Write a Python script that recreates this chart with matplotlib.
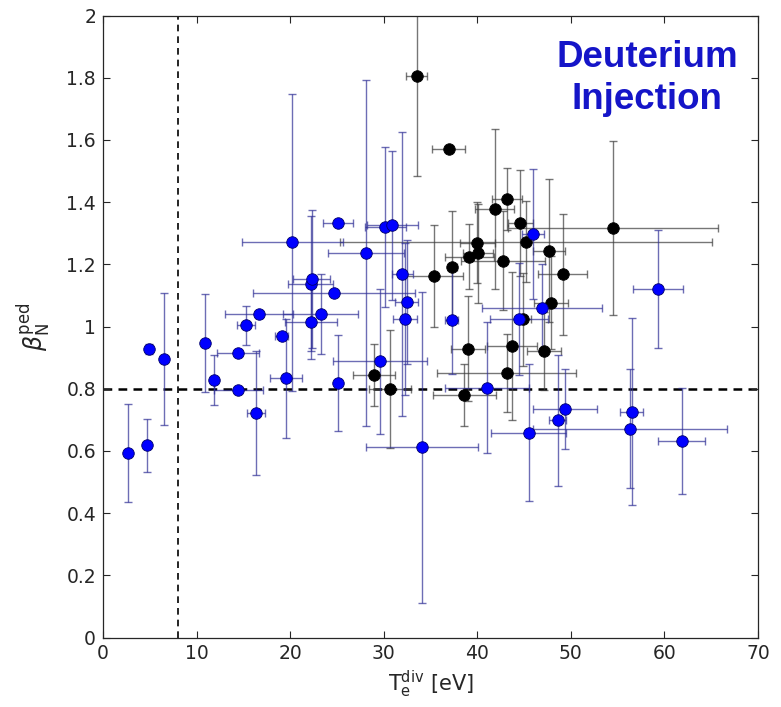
import numpy as np
import matplotlib
matplotlib.use('Agg')
import matplotlib.pyplot as plt

plt.rcParams['font.family'] = ['DejaVu Sans']
plt.rcParams['mathtext.fontset'] = 'dejavusans'

# blue shots: position, value, errors
blue_x = [2.71, 4.67, 4.95, 6.52, 10.93, 11.9, 14.43, 14.46, 15.28, 16.35,
          16.67, 19.1, 19.56, 20.23, 22.2, 22.3, 22.23, 23.26, 24.69, 25.08,
          25.15, 28.1, 29.6, 30.17, 30.92, 32.0, 32.46, 32.27, 34.1, 37.27,
          41.07, 44.5, 45.5, 45.95, 46.95, 48.6, 49.37, 56.3, 56.5, 59.35,
          61.84]
blue_y = [0.594, 0.618, 0.929, 0.896, 0.948, 0.828, 0.916, 0.796, 1.004, 0.721,
          1.039, 0.969, 0.833, 1.271, 1.137, 1.152, 1.014, 1.04, 1.107, 1.334,
          0.819, 1.237, 0.889, 1.319, 1.326, 1.168, 1.078, 1.025, 0.611, 1.021,
          0.803, 1.023, 0.659, 1.298, 1.06, 0.698, 0.735, 0.672, 0.726, 1.121,
          0.632]
blue_xerr = [0.1, 0.1, 0.1, 0.1, 0.1, 0.1, 2.26, 2.63, 0.98, 0.97,
             3.63, 0.7, 1.7, 5.4, 2.4, 2.0, 2.75, 4.0, 8.67, 1.6,
             0.1, 4.1, 5.0, 2.2, 2.7, 1.1, 1.25, 1.27, 6.0, 0.7,
             4.5, 3.1, 4.0, 1.2, 6.4, 0.9, 3.4, 10.4, 1.25, 2.67,
             2.53]
blue_yerr = [0.158, 0.085, 0.016, 0.213, 0.157, 0.079, 0.01, 0.01, 0.063, 0.2,
             0.01, 0.01, 0.19, 0.478, 0.217, 0.222, 0.12, 0.128, 0.01, 0.01,
             0.154, 0.556, 0.233, 0.257, 0.24, 0.456, 0.2, 0.245, 0.5, 0.175,
             0.21, 0.18, 0.22, 0.21, 0.14, 0.21, 0.13, 0.19, 0.3, 0.19,
             0.17]

# black shots
black_x = [33.52, 36.94, 43.21, 41.86, 44.6, 45.2, 40.0, 40.1, 39.15, 42.78,
           47.66, 35.37, 37.33, 49.13, 47.88, 44.92, 54.5, 47.16, 39.04, 43.68,
           43.13, 38.6, 28.96, 30.7]
black_y = [1.805, 1.572, 1.411, 1.378, 1.332, 1.273, 1.27, 1.235, 1.225, 1.212,
           1.243, 1.163, 1.193, 1.168, 1.077, 1.023, 1.318, 0.921, 0.929, 0.937,
           0.851, 0.78, 0.843, 0.798]
black_xerr = [1.1, 1.75, 1.6, 2.1, 1.35, 19.85, 1.9, 1.6, 2.6, 4.5,
              1.7, 3.1, 0.5, 2.63, 1.85, 0.8, 11.2, 1.8, 1.8, 2.67,
              7.4, 3.35, 2.2, 2.25]
black_yerr = [0.32, 0.01, 0.1, 0.257, 0.17, 0.13, 0.13, 0.16, 0.104, 0.16,
              0.23, 0.165, 0.18, 0.195, 0.15, 0.15, 0.28, 0.126, 0.17, 0.237,
              0.125, 0.1, 0.1, 0.19]

xticks = [0, 10, 20, 30, 40, 50, 60, 70]
yticks = [0, 0.2, 0.4, 0.6, 0.8, 1.0, 1.2, 1.4, 1.6, 1.8, 2.0]

fig = plt.figure(figsize=(7.81, 7.07), dpi=100)
ax = fig.add_axes([0.1319, 0.0983, 0.8387, 0.8797])

# error bars first, markers on top
ax.errorbar(black_x, black_y, xerr=black_xerr, yerr=black_yerr, fmt='none',
            ecolor='#3c3c3c', elinewidth=1.0, capsize=3, capthick=1.0,
            alpha=0.7, zorder=2)
ax.errorbar(blue_x, blue_y, xerr=blue_xerr, yerr=blue_yerr, fmt='none',
            ecolor='#2f2f96', elinewidth=1.0, capsize=3, capthick=1.0,
            alpha=0.7, zorder=2)
ax.plot(black_x, black_y, 'o', color='black', markersize=8.3,
        markeredgecolor='black', markeredgewidth=0.6, zorder=3)
ax.plot(blue_x, blue_y, 'o', color='#0000ff', markersize=8.3,
        markeredgecolor='#00006a', markeredgewidth=0.6, zorder=4)

ax.axvline(8, color='black', linestyle=(0, (4, 3)), linewidth=1.2, zorder=1)
ax.axhline(0.8, color='black', linestyle=(0, (3.5, 2.5)), linewidth=1.8, zorder=1)

ax.set_xlim(0, 70)
ax.set_ylim(0, 2)
ax.set_xticks(xticks)
ax.set_yticks(yticks)
ax.set_yticklabels(['%g' % t for t in yticks])
ax.tick_params(direction='in', top=True, right=True, length=5, width=0.8,
               labelsize=13.5, colors='#262626', pad=5)
for s in ax.spines.values():
    s.set_color('#262626')
    s.set_linewidth(0.9)

ax.set_xlabel(r'$\mathsf{T_e^{div}}$ [eV]', fontsize=15, color='#262626',
              labelpad=4)
ax.set_ylabel(r'$\beta_{\mathsf{N}}^{\mathsf{ped}}$', fontsize=17,
              color='#262626', labelpad=10)

ax.text(0.8305, 0.899, 'Deuterium\nInjection', transform=ax.transAxes,
        ha='center', va='center', fontsize=26.5, fontweight='bold',
        color='#1515c8', family='Liberation Sans', linespacing=1.28)

fig.savefig('out.png', dpi=100)
